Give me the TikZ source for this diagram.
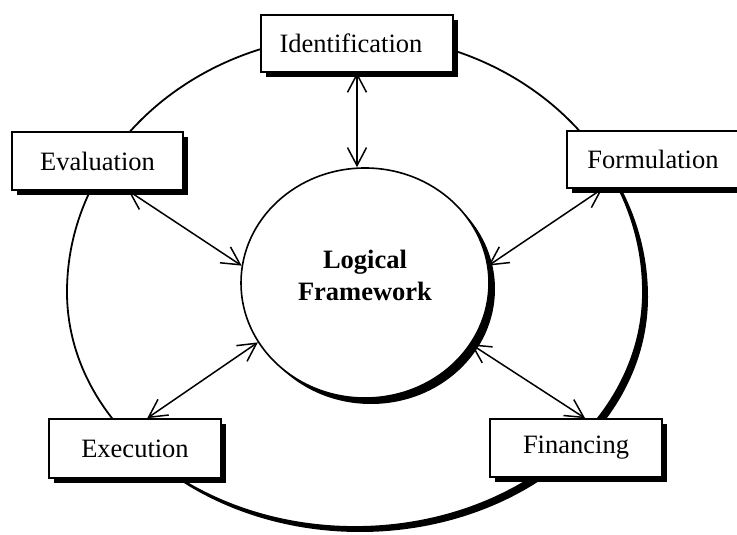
\documentclass[tikz,border=0pt]{standalone}
\usepackage{fontspec}
\setmainfont{Liberation Serif}
\usetikzlibrary{arrows.meta,shadows,shapes.geometric}
\begin{document}
\begin{tikzpicture}[x=1pt,y=1pt,
  hardshadow/.style={drop shadow={shadow xshift=5pt,shadow yshift=-5pt,fill=black,opacity=1}},
  stage/.style={draw,fill=white,line width=1.5pt,hardshadow,inner sep=0pt,
    font=\fontsize{26.5}{32}\selectfont},
  barb/.tip={Straight Barb[length=18pt,width=19pt]},
  link/.style={line width=1.5pt,{barb}-{barb}}]
\useasboundingbox (0,0) rectangle (737,535);

% outer project cycle (slightly taller above than below)
\path[draw,fill=white,line width=1.8pt,hardshadow]
  (643,243) arc[start angle=0,end angle=180,x radius=288,y radius=257]
            arc[start angle=180,end angle=360,x radius=288,y radius=235] -- cycle;

% central framework
\node[ellipse,draw,fill=white,line width=1.6pt,inner sep=0pt,
      drop shadow={shadow xshift=6pt,shadow yshift=-6pt,fill=black,opacity=1},
      minimum width=248pt,minimum height=230pt] (lf) at (365,252) {};
\node[font=\bfseries\fontsize{26.5}{32}\selectfont,align=center] (lftext) at (365,260)
  {Logical\\Framework};

% the five stages
\node[stage,minimum width=192pt,minimum height=57pt] (ident) at (357,491.5) {\hspace*{-12pt}Identification};
\node[stage,minimum width=171pt,minimum height=58pt] (eval)  at (97.5,374)  {Evaluation};
\node[stage,minimum width=172pt,minimum height=57pt] (form)  at (653,375.5) {Formulation};
\node[stage,minimum width=172pt,minimum height=59pt] (exec)  at (135,86.5)  {Execution};
\node[stage,minimum width=172pt,minimum height=58pt] (fin)   at (576,87)    {Financing};

% two-way links to the framework
\draw[link] (ident.south) -- (ident.south |- lf.north);
\draw[link] (eval.-44) -- (lf.172);
\draw[link] (form.210) -- (lf.8);
\draw[link] (exec.68) -- (lf.209);
\draw[link] (fin.73) -- (lf.-30);
\end{tikzpicture}
\end{document}
